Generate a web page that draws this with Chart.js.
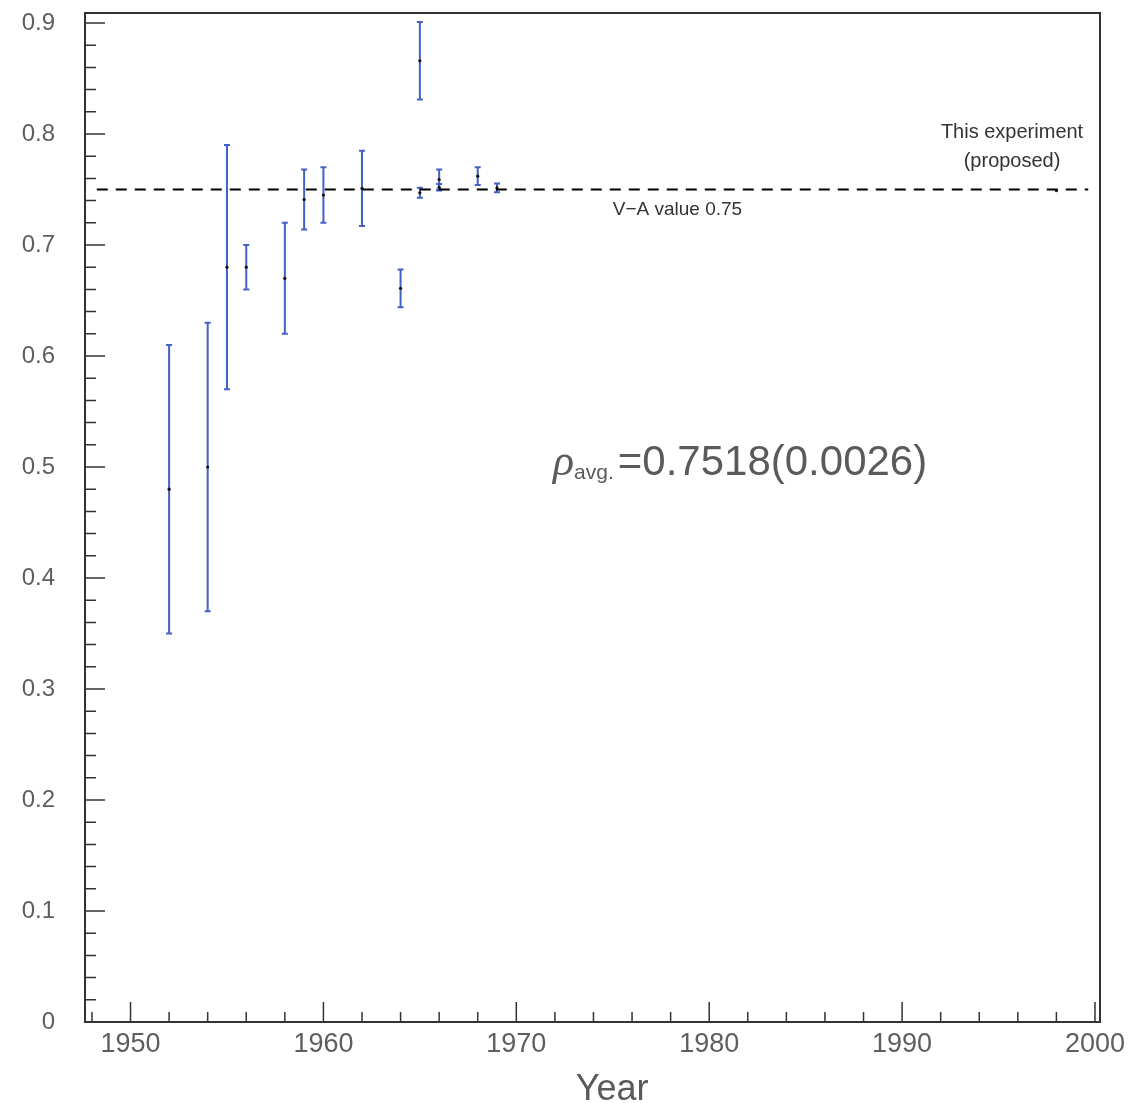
<!DOCTYPE html>
<html lang="en">
<head>
<meta charset="UTF-8">
<title>Michel parameter rho by year</title>
<script src="https://cdn.jsdelivr.net/npm/chart.js"></script>
<style>
  html, body { margin: 0; padding: 0; background: #fff; }
  #wrap { width: 1130px; height: 1103px; }
</style>
</head>
<body>
<div id="wrap"><canvas id="myChart"></canvas></div>
<script>
// rho measurements, one entry per experiment
const years  = [1952, 1954, 1955, 1956, 1958, 1959, 1960, 1962, 1964, 1965, 1965, 1966, 1966, 1968, 1969];
const rho    = [0.48, 0.50, 0.68, 0.68, 0.67, 0.741, 0.745, 0.751, 0.661, 0.866, 0.747, 0.759, 0.752, 0.762, 0.7515];
const rhoErr = [0.13, 0.13, 0.11, 0.02, 0.05, 0.027, 0.025, 0.034, 0.017, 0.035, 0.0045, 0.009, 0.003, 0.008, 0.004];

// proposed new measurement
const proposedYear = [1998];
const proposedRho  = [0.749];

// V-A expectation drawn as a dashed line
const vaValue = 0.75;
const vaYears = [1948.25, 1999.65];

// axis labels
const yearTicks = [1950, 1960, 1970, 1980, 1990, 2000];
const rhoTicks  = [0, 0.1, 0.2, 0.3, 0.4, 0.5, 0.6, 0.7, 0.8, 0.9];

Chart.defaults.font.family = '"Liberation Sans", Arial, sans-serif';

// vertical error bars with small caps, under the points
const errorBars = {
    id: 'errorBars',
    beforeDatasetsDraw(chart) {
        const {ctx, scales: {x, y}} = chart;
        ctx.save();
        ctx.strokeStyle = '#4262c6';
        ctx.lineWidth = 2;
        years.forEach((yr, i) => {
            const px = x.getPixelForValue(yr);
            const top = y.getPixelForValue(rho[i] + rhoErr[i]);
            const bot = y.getPixelForValue(rho[i] - rhoErr[i]);
            ctx.beginPath();
            ctx.moveTo(px, top); ctx.lineTo(px, bot);
            ctx.moveTo(px - 3, top); ctx.lineTo(px + 3, top);
            ctx.moveTo(px - 3, bot); ctx.lineTo(px + 3, bot);
            ctx.stroke();
        });
        ctx.restore();
    }
};

// box frame with inward ticks (minor ticks every 2 years / 0.02)
const frameTicks = {
    id: 'frameTicks',
    afterDraw(chart) {
        const {ctx, chartArea: a, scales: {x, y}} = chart;
        ctx.save();
        ctx.strokeStyle = '#333';
        ctx.lineWidth = 1.5;
        ctx.beginPath();
        for (let yr = 1948; yr <= 2000; yr += 2) {
            const px = x.getPixelForValue(yr);
            const len = yr % 10 === 0 ? 20 : 10;
            ctx.moveTo(px, a.bottom); ctx.lineTo(px, a.bottom - len);
        }
        for (let i = 1; i <= 45; i++) {
            const py = y.getPixelForValue(i / 50);
            const len = i % 5 === 0 ? 20 : 11;
            ctx.moveTo(a.left, py); ctx.lineTo(a.left + len, py);
        }
        ctx.stroke();
        ctx.lineWidth = 2;
        ctx.strokeRect(a.left, a.top, a.width, a.height);
        ctx.restore();
    }
};

// text annotations
const annotations = {
    id: 'annotations',
    afterDraw(chart) {
        const {ctx, chartArea: a, scales: {x, y}} = chart;
        ctx.save();
        ctx.textBaseline = 'alphabetic';

        ctx.fillStyle = '#333';
        ctx.font = '19px "Liberation Sans", sans-serif';
        ctx.textAlign = 'left';
        ctx.fillText('V\u2212A value 0.75', x.getPixelForValue(1975), y.getPixelForValue(0.727));

        ctx.font = '20px "Liberation Sans", sans-serif';
        ctx.textAlign = 'center';
        ctx.fillText('This experiment', x.getPixelForValue(1995.7), y.getPixelForValue(0.7964));
        ctx.fillText('(proposed)', x.getPixelForValue(1995.7), y.getPixelForValue(0.770));

        // rho_avg. = ...
        ctx.fillStyle = '#5a5a5a';
        ctx.textAlign = 'left';
        let px = x.getPixelForValue(1971.9);
        const base = y.getPixelForValue(0.4928);
        ctx.font = 'italic 44px "Liberation Serif", serif';
        ctx.fillText('\u03c1', px, base);
        px += ctx.measureText('\u03c1').width;
        ctx.font = '21px "Liberation Sans", sans-serif';
        ctx.fillText('avg.', px, base + 4);
        px += ctx.measureText('avg.').width + 4;
        ctx.font = '42px "Liberation Sans", sans-serif';
        ctx.fillText('=0.7518(0.0026)', px, base);

        // x axis title
        ctx.font = '36px "Liberation Sans", sans-serif';
        ctx.textAlign = 'center';
        ctx.fillText('Year', x.getPixelForValue(1974.97), a.bottom + 78);
        ctx.restore();
    }
};

const ctx = document.querySelector('#myChart');
new Chart(ctx, {
    type: 'scatter',
    data: {
        datasets: [
            {
                label: 'V-A value',
                data: vaYears.map(v => ({x: v, y: vaValue})),
                showLine: true,
                borderColor: '#000',
                borderWidth: 2,
                borderDash: [11, 8],
                pointRadius: 0
            },
            {
                label: 'Measurements',
                data: years.map((v, i) => ({x: v, y: rho[i]})),
                pointRadius: 1.6,
                backgroundColor: '#111',
                borderWidth: 0
            },
            {
                label: 'Proposed',
                data: proposedYear.map((v, i) => ({x: v, y: proposedRho[i]})),
                pointRadius: 1.6,
                backgroundColor: '#111',
                borderWidth: 0
            }
        ]
    },
    options: {
        responsive: true,
        maintainAspectRatio: false,
        animation: false,
        layout: { padding: { top: 13, right: 30, left: 0, bottom: 0 } },
        plugins: {
            legend: { display: false },
            tooltip: { enabled: false }
        },
        scales: {
            x: {
                type: 'linear',
                min: 1947.64,
                max: 2000.26,
                afterBuildTicks: s => { s.ticks = yearTicks.map(v => ({value: v})); },
                afterFit: s => {
                    s.height = 81;
                    s.paddingLeft = 0;
                    s.paddingRight = 0;
                },
                ticks: {
                    callback: v => String(v),
                    autoSkip: false,
                    maxRotation: 0,
                    padding: 6,
                    color: '#5e5e5e',
                    font: { size: 27 }
                },
                grid: { display: false, drawTicks: false },
                border: { display: false }
            },
            y: {
                min: 0,
                max: 0.909,
                afterBuildTicks: s => { s.ticks = rhoTicks.map(v => ({value: v})); },
                afterFit: s => {
                    s.width = 85;
                    s.paddingTop = 0;
                    s.paddingBottom = 0;
                },
                ticks: {
                    callback: v => String(v),
                    padding: 30,
                    color: '#5e5e5e',
                    font: { size: 24 }
                },
                grid: { display: false, drawTicks: false },
                border: { display: false }
            }
        }
    },
    plugins: [errorBars, frameTicks, annotations]
});
</script>
</body>
</html>
